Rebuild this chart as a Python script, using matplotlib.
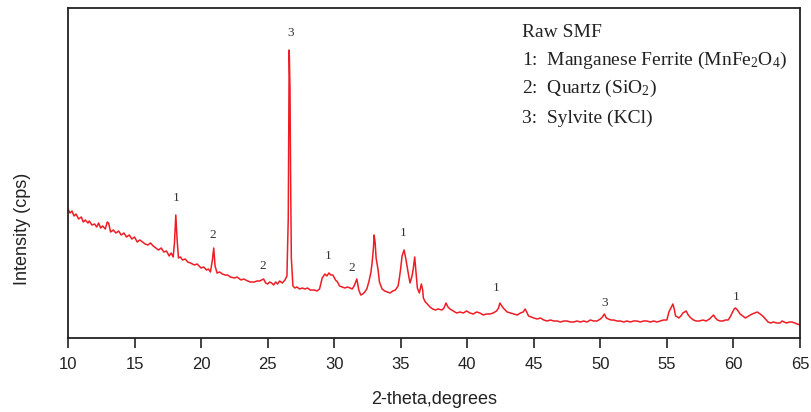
import numpy as np
import matplotlib
matplotlib.use('Agg')
import matplotlib.pyplot as plt

# (2-theta in degrees, intensity in cps), in four stretches
seg_10_18 = [
    (10.0, 1290), (10.15, 1250), (10.3, 1270), (10.45, 1220), (10.6, 1240),
    (10.8, 1190), (11.0, 1210), (11.15, 1160), (11.3, 1180), (11.5, 1150),
    (11.6, 1170), (11.8, 1130), (12.0, 1140), (12.15, 1110), (12.3, 1150),
    (12.45, 1100), (12.6, 1120), (12.8, 1090), (12.95, 1160), (13.05, 1150),
    (13.2, 1060), (13.4, 1080), (13.6, 1050), (13.8, 1070), (14.0, 1030),
    (14.2, 1050), (14.4, 1010), (14.6, 1030), (14.8, 990), (15.0, 1010),
    (15.2, 960), (15.4, 980), (15.6, 960), (15.8, 940), (16.0, 930),
    (16.2, 950), (16.4, 920), (16.6, 900), (16.8, 880), (17.0, 900),
    (17.2, 860), (17.4, 870), (17.6, 820), (17.75, 850), (17.9, 810),
]
seg_18_26 = [
    (18.0, 950), (18.1, 1230), (18.2, 980), (18.3, 800), (18.45, 810),
    (18.6, 780), (18.8, 790), (19.0, 760), (19.2, 750), (19.5, 730),
    (19.7, 740), (20.0, 700), (20.2, 710), (20.4, 680), (20.55, 690),
    (20.7, 660), (20.85, 780), (20.95, 900), (21.05, 720), (21.2, 650),
    (21.4, 660), (21.6, 640), (21.8, 630), (22.0, 630), (22.2, 610),
    (22.5, 600), (22.7, 610), (23.0, 580), (23.2, 590), (23.5, 570),
    (23.7, 560), (24.0, 560), (24.2, 570), (24.4, 570), (24.55, 580),
    (24.7, 590), (24.85, 550), (25.0, 540), (25.15, 560), (25.3, 550),
    (25.45, 530), (25.6, 560), (25.75, 540), (25.9, 570), (26.1, 550),
    (26.3, 580), (26.45, 620),
]
seg_26_39 = [
    (26.55, 1200), (26.62, 2880), (26.68, 2500), (26.72, 1700), (26.78, 800),
    (26.9, 520), (27.05, 500), (27.2, 510), (27.4, 490), (27.6, 500),
    (27.8, 490), (28.0, 500), (28.2, 480), (28.5, 480), (28.7, 470),
    (28.9, 490), (29.1, 600), (29.3, 640), (29.45, 620), (29.6, 650),
    (29.75, 630), (29.9, 630), (30.1, 580), (30.25, 560), (30.4, 520),
    (30.6, 510), (30.8, 500), (31.0, 510), (31.2, 500), (31.35, 490),
    (31.5, 520), (31.7, 590), (31.85, 480), (32.0, 430), (32.15, 440),
    (32.3, 460), (32.45, 490), (32.6, 560), (32.75, 650), (32.85, 750),
    (32.95, 900), (33.0, 1030), (33.08, 950), (33.15, 800), (33.3, 680),
    (33.4, 560), (33.6, 490), (33.8, 470), (34.0, 460), (34.2, 450),
    (34.4, 470), (34.6, 480), (34.8, 520), (34.9, 600), (35.0, 700),
    (35.1, 820), (35.25, 880), (35.4, 780), (35.5, 700), (35.6, 620),
    (35.7, 550), (35.85, 620), (35.95, 700), (36.05, 810), (36.15, 650),
    (36.25, 500), (36.4, 450), (36.55, 540), (36.65, 480), (36.7, 400),
    (36.85, 360), (37.0, 340), (37.2, 310), (37.4, 290), (37.6, 280),
    (37.8, 290), (38.1, 280), (38.25, 300), (38.4, 350), (38.55, 310),
    (38.7, 290),
]
seg_39_65 = [
    (38.95, 270), (39.2, 250), (39.45, 260), (39.7, 250), (39.95, 270),
    (40.2, 250), (40.45, 240), (40.7, 260), (40.95, 250), (41.2, 230),
    (41.45, 240), (41.7, 240), (41.95, 250), (42.2, 270), (42.35, 300),
    (42.45, 350), (42.55, 330), (42.7, 300), (42.85, 280), (43.0, 260),
    (43.25, 250), (43.5, 240), (43.75, 230), (44.0, 250), (44.2, 260),
    (44.35, 290), (44.5, 250), (44.6, 220), (44.8, 210), (45.0, 200),
    (45.25, 190), (45.5, 200), (45.75, 180), (46.0, 170), (46.25, 180),
    (46.5, 170), (46.75, 170), (47.0, 160), (47.25, 170), (47.5, 170),
    (47.75, 160), (48.0, 160), (48.25, 170), (48.5, 160), (48.75, 170),
    (49.0, 160), (49.25, 180), (49.5, 170), (49.75, 170), (50.0, 190),
    (50.15, 210), (50.3, 240), (50.45, 200), (50.6, 190), (50.8, 180),
    (51.0, 180), (51.25, 170), (51.5, 170), (51.75, 160), (52.0, 170),
    (52.25, 160), (52.5, 170), (52.75, 170), (53.0, 160), (53.25, 170),
    (53.5, 170), (53.75, 160), (54.0, 170), (54.25, 160), (54.5, 170),
    (54.75, 180), (55.0, 180), (55.15, 260), (55.3, 300), (55.45, 340),
    (55.55, 290), (55.65, 220), (55.8, 210), (55.9, 200), (56.05, 220),
    (56.2, 250), (56.45, 270), (56.6, 230), (56.8, 200), (57.0, 180),
    (57.2, 170), (57.45, 170), (57.7, 180), (57.95, 170), (58.2, 190),
    (58.35, 210), (58.5, 230), (58.65, 200), (58.8, 180), (59.0, 170),
    (59.2, 170), (59.4, 180), (59.6, 180), (59.75, 210), (59.9, 250),
    (60.05, 290), (60.15, 300), (60.3, 280), (60.5, 240), (60.7, 220),
    (60.9, 200), (61.15, 220), (61.4, 240), (61.6, 250), (61.8, 260),
    (62.0, 240), (62.2, 220), (62.4, 190), (62.6, 160), (62.8, 150),
    (63.0, 160), (63.25, 150), (63.5, 150), (63.65, 170), (63.8, 160),
    (64.0, 150), (64.2, 160), (64.4, 160), (64.6, 150), (64.8, 140),
    (65.0, 130),
]

# peak labels: 1 = MnFe2O4, 2 = SiO2, 3 = KCl
label_x = [18.1, 20.9, 24.6, 26.7, 29.55, 31.3, 35.2, 42.2, 50.3, 60.2]
label_y = [1400, 1030, 720, 3050, 820, 700, 1050, 500, 350, 410]
label_text = ['1', '2', '2', '3', '1', '2', '1', '1', '3', '1']

legend_lines = [
    'Raw SMF',
    '1:  Manganese Ferrite (MnFe$_2$O$_4$)',
    '2:  Quartz (SiO$_2$)',
    '3:  Sylvite (KCl)',
]

plt.rcParams['font.family'] = ['Liberation Sans', 'DejaVu Sans']
plt.rcParams['mathtext.fontset'] = 'custom'
plt.rcParams['mathtext.rm'] = 'Liberation Serif'
plt.rcParams['mathtext.it'] = 'Liberation Serif'

pattern = np.array(seg_10_18 + seg_18_26 + seg_26_39 + seg_39_65)
two_theta = pattern[:, 0]
intensity = pattern[:, 1]

fig = plt.figure(figsize=(8.11, 4.12), dpi=100)
ax = fig.add_axes([68 / 811, 1 - 338 / 412, 732 / 811, 330 / 412])

ax.plot(two_theta, intensity, color='#ee1c24', lw=1.1)

for x, y, t in zip(label_x, label_y, label_text):
    ax.text(x, y, t, ha='center', va='center', fontsize=9.5,
            family='Liberation Serif', color='#333333')

# legend block in the upper right
legend_y = [0.925, 0.84, 0.755, 0.665]
for s, y in zip(legend_lines, legend_y):
    ax.text(0.62, y, s, transform=ax.transAxes, ha='left', va='center',
            fontsize=14, family='Liberation Serif', color='#222222')

ax.set_xlim(10, 65)
ax.set_ylim(0, 3300)
ax.set_xticks(np.arange(10, 66, 5))
ax.set_yticks([])
ax.tick_params(axis='x', direction='out', length=7, width=1.2,
               labelsize=12, pad=7, colors='#222222')
for sp in ax.spines.values():
    sp.set_linewidth(1.3)
    sp.set_color('#222222')

ax.set_xlabel('2-theta,degrees', fontsize=13, labelpad=13, color='#222222')
ax.set_ylabel('Intensity (cps)', fontsize=13, color='#222222')
ax.yaxis.set_label_coords(-0.05, 0.33)

fig.savefig('out.png', dpi=100)
